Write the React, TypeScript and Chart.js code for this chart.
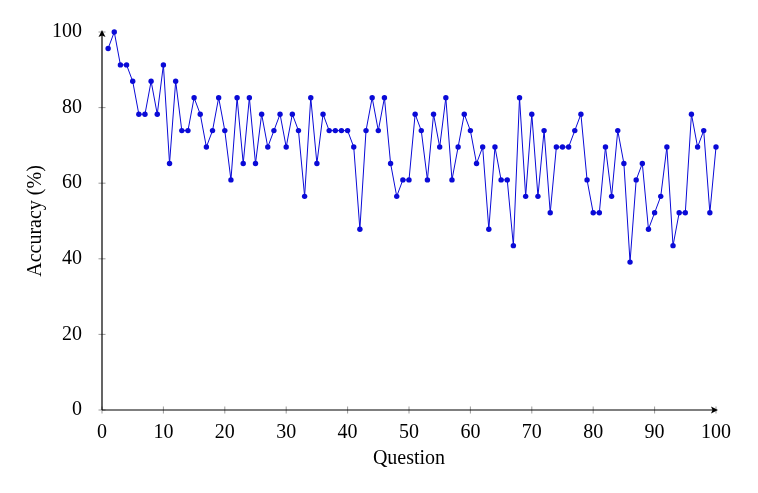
import React, { useEffect, useRef } from 'react';
import { Chart, registerables, Plugin } from 'chart.js';

Chart.register(...registerables);

// question numbers 1..100 and the accuracy (multiples of 1/23)
const questions: number[] = [
  1, 2, 3, 4, 5, 6, 7, 8, 9, 10,
  11, 12, 13, 14, 15, 16, 17, 18, 19, 20,
  21, 22, 23, 24, 25, 26, 27, 28, 29, 30,
  31, 32, 33, 34, 35, 36, 37, 38, 39, 40,
  41, 42, 43, 44, 45, 46, 47, 48, 49, 50,
  51, 52, 53, 54, 55, 56, 57, 58, 59, 60,
  61, 62, 63, 64, 65, 66, 67, 68, 69, 70,
  71, 72, 73, 74, 75, 76, 77, 78, 79, 80,
  81, 82, 83, 84, 85, 86, 87, 88, 89, 90,
  91, 92, 93, 94, 95, 96, 97, 98, 99, 100,
];

const accuracy: number[] = [
  95.65, 100, 91.3, 91.3, 86.96, 78.26, 78.26, 86.96, 78.26, 91.3,
  65.22, 86.96, 73.91, 73.91, 82.61, 78.26, 69.57, 73.91, 82.61, 73.91,
  60.87, 82.61, 65.22, 82.61, 65.22, 78.26, 69.57, 73.91, 78.26, 69.57,
  78.26, 73.91, 56.52, 82.61, 65.22, 78.26, 73.91, 73.91, 73.91, 73.91,
  69.57, 47.83, 73.91, 82.61, 73.91, 82.61, 65.22, 56.52, 60.87, 60.87,
  78.26, 73.91, 60.87, 78.26, 69.57, 82.61, 60.87, 69.57, 78.26, 73.91,
  65.22, 69.57, 47.83, 69.57, 60.87, 60.87, 43.48, 82.61, 56.52, 78.26,
  56.52, 73.91, 52.17, 69.57, 69.57, 69.57, 73.91, 78.26, 60.87, 52.17,
  52.17, 69.57, 56.52, 73.91, 65.22, 39.13, 60.87, 65.22, 47.83, 52.17,
  56.52, 69.57, 43.48, 52.17, 52.17, 78.26, 69.57, 73.91, 52.17, 69.57,
];

const xTicks: number[] = [0, 10, 20, 30, 40, 50, 60, 70, 80, 90, 100];
const yTicks: number[] = [0, 20, 40, 60, 80, 100];

const FONT = "'Liberation Serif', 'Times New Roman', serif";

// axis lines with arrow heads and small ticks crossing the axis, pgfplots style
const axisPlugin: Plugin<'line'> = {
  id: 'axisArrows',
  beforeDatasetsDraw(chart) {
    const { ctx, chartArea } = chart;
    const xs = chart.scales.x;
    const ys = chart.scales.y;
    const x0 = chartArea.left;
    const y0 = chartArea.bottom;
    ctx.save();

    // ticks
    ctx.strokeStyle = '#808080';
    ctx.lineWidth = 0.8;
    xTicks.forEach((v) => {
      const px = xs.getPixelForValue(v);
      ctx.beginPath();
      ctx.moveTo(px, y0 - 3.5);
      ctx.lineTo(px, y0 + 3.5);
      ctx.stroke();
    });
    yTicks.forEach((v) => {
      const py = ys.getPixelForValue(v);
      ctx.beginPath();
      ctx.moveTo(x0 - 3.5, py);
      ctx.lineTo(x0 + 3.5, py);
      ctx.stroke();
    });

    // axes
    ctx.strokeStyle = '#000';
    ctx.fillStyle = '#000';
    ctx.lineWidth = 1.2;
    ctx.beginPath();
    ctx.moveTo(x0, y0);
    ctx.lineTo(chartArea.right, y0);
    ctx.moveTo(x0, y0);
    ctx.lineTo(x0, chartArea.top);
    ctx.stroke();

    // arrow heads
    const r = chartArea.right;
    ctx.beginPath();
    ctx.moveTo(r + 2, y0);
    ctx.lineTo(r - 5, y0 - 3.5);
    ctx.lineTo(r - 3.5, y0);
    ctx.lineTo(r - 5, y0 + 3.5);
    ctx.closePath();
    ctx.fill();
    const t = chartArea.top;
    ctx.beginPath();
    ctx.moveTo(x0, t - 2);
    ctx.lineTo(x0 - 3.5, t + 5);
    ctx.lineTo(x0, t + 3.5);
    ctx.lineTo(x0 + 3.5, t + 5);
    ctx.closePath();
    ctx.fill();
    ctx.restore();
  },
};

const App: React.FC = () => {
  const canvasRef = useRef<HTMLCanvasElement | null>(null);
  const chartRef = useRef<Chart<'line'> | null>(null);

  useEffect(() => {
    if (!canvasRef.current) return;
    if (chartRef.current) chartRef.current.destroy();

    chartRef.current = new Chart(canvasRef.current, {
      type: 'line',
      data: {
        datasets: [
          {
            label: 'Accuracy',
            data: questions.map((q, i) => ({ x: q, y: accuracy[i] })),
            borderColor: 'rgb(10,10,215)',
            backgroundColor: 'rgb(10,10,215)',
            borderWidth: 1,
            pointRadius: 2.7,
            pointBorderWidth: 0,
            tension: 0,
            clip: false,
          },
        ],
      },
      options: {
        animation: false,
        responsive: false,
        maintainAspectRatio: false,
        layout: { padding: { left: 0, right: 42, top: 32, bottom: 0 } },
        plugins: {
          legend: { display: false },
          tooltip: { enabled: false },
        },
        scales: {
          x: {
            type: 'linear',
            min: 0,
            max: 100,
            grid: { display: false },
            border: { display: false },
            afterBuildTicks: (scale) => {
              scale.ticks = xTicks.map((v) => ({ value: v }));
            },
            afterFit: (scale) => {
              scale.height = 83;
            },
            ticks: {
              color: '#000',
              padding: 3,
              maxRotation: 0,
              font: { family: FONT, size: 20 },
            },
            title: {
              display: true,
              text: 'Question',
              color: '#000',
              padding: { top: 4, bottom: 22 },
              font: { family: FONT, size: 20 },
            },
          },
          y: {
            type: 'linear',
            min: 0,
            max: 100,
            grid: { display: false },
            border: { display: false },
            afterBuildTicks: (scale) => {
              scale.ticks = yTicks.map((v) => ({ value: v }));
            },
            afterFit: (scale) => {
              scale.width = 102;
            },
            ticks: {
              color: '#000',
              padding: 12,
              font: { family: FONT, size: 20 },
            },
            title: {
              display: true,
              text: 'Accuracy (%)',
              color: '#000',
              padding: { top: 24, bottom: 4 },
              font: { family: FONT, size: 20 },
            },
          },
        },
      },
      plugins: [axisPlugin],
    });

    return () => {
      if (chartRef.current) {
        chartRef.current.destroy();
        chartRef.current = null;
      }
    };
  }, []);

  return (
    <div style={{ position: 'fixed', left: 0, top: 0, width: 758, height: 493, background: '#fff' }}>
      <canvas ref={canvasRef} width={758} height={493} style={{ width: 758, height: 493 }}></canvas>
    </div>
  );
};

export default App;
